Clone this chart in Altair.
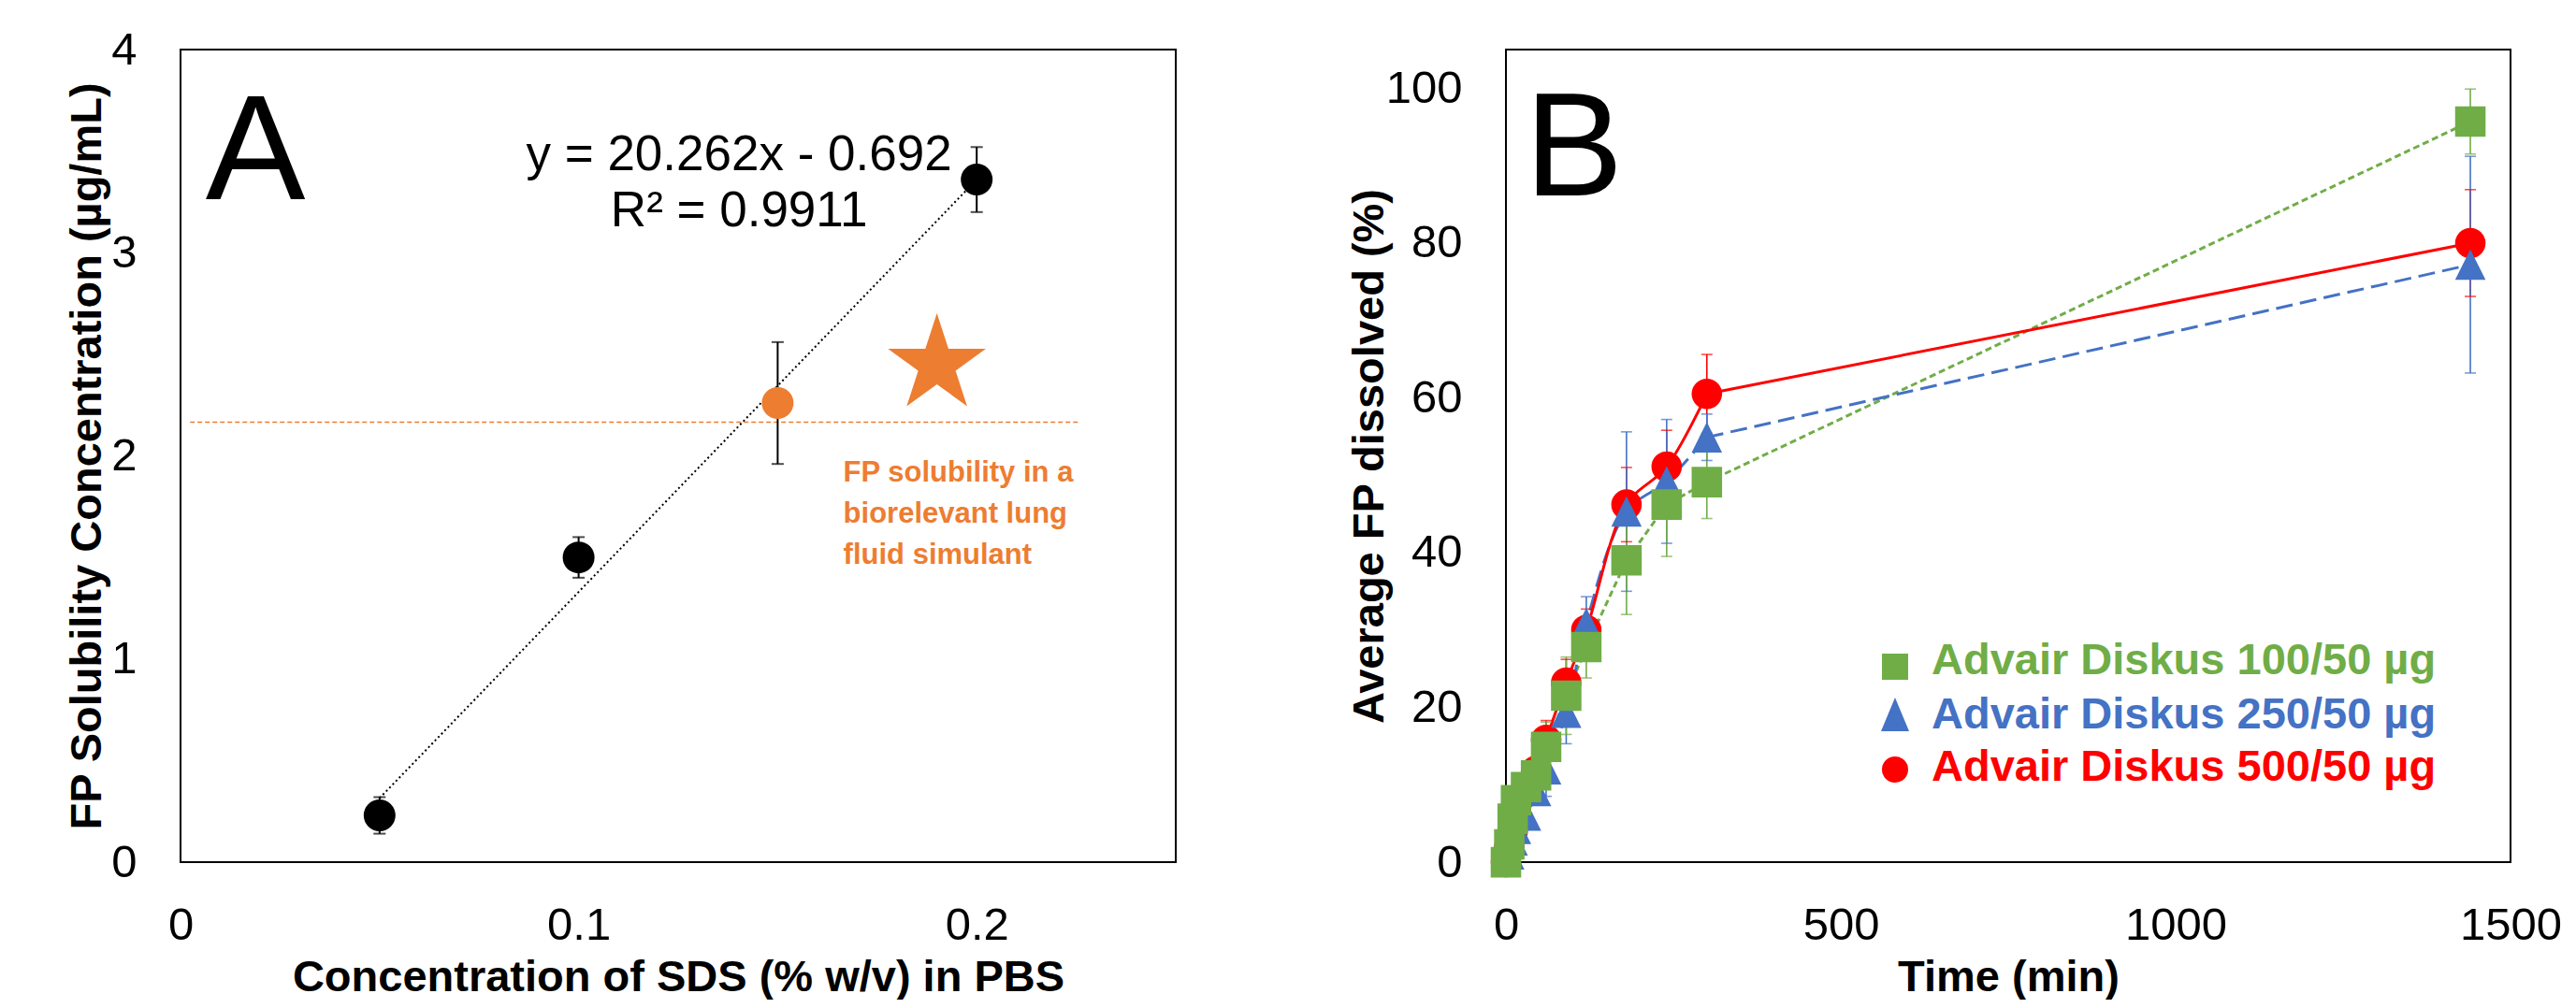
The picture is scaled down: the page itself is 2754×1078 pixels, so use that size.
import altair as alt
import pandas as pd

FONT = "Arial, 'Liberation Sans', sans-serif"
ORANGE = "#ED7D31"
GREEN = "#70AD47"
BLUE = "#4472C4"
RED = "#FF0000"

# ---------------- Panel A data ----------------
sds_conc = [0.05, 0.10, 0.15, 0.20]
fp_solubility = [0.23, 1.50, 2.26, 3.36]
fp_solubility_err = [0.09, 0.10, 0.30, 0.16]
point_group = ["PBS + SDS", "PBS + SDS", "Matches lung fluid", "PBS + SDS"]
lung_fluid_solubility = [2.166]
lung_line_from = [0.0024]
lung_line_to = [0.2256]
star_x = [0.19]
star_y = [2.449]

# ---------------- Panel B data ----------------
time_min = [0, 5, 10, 15, 30, 45, 60, 90, 120, 180, 240, 300, 1440]
series_names = ["Advair Diskus 100/50 µg", "Advair Diskus 250/50 µg", "Advair Diskus 500/50 µg"]
diss_100 = [0, 2.3, 5.6, 8.0, 9.7, 11.2, 14.9, 21.5, 27.8, 39.0, 46.2, 49.1, 95.7]
err_100 = [0, 0.5, 0.8, 1.0, 1.2, 1.5, 3.2, 5.0, 4.0, 7.0, 6.7, 4.7, 4.2]
diss_250 = [0, 1.0, 2.8, 4.3, 6.0, 9.2, 12.0, 19.3, 30.9, 45.3, 49.2, 54.9, 77.2]
err_250 = [0, 0.5, 0.8, 1.0, 1.2, 1.5, 3.5, 4.0, 3.4, 10.3, 8.0, 3.0, 14.0]
diss_500 = [0, 2.0, 4.0, 6.0, 9.0, 11.8, 15.8, 23.2, 30.0, 46.2, 51.1, 60.5, 80.0]
err_500 = [0, 0.5, 0.8, 1.0, 1.2, 1.5, 2.5, 3.0, 2.7, 4.8, 4.7, 5.1, 6.9]

# ---------------- Panel A ----------------
dfA = pd.DataFrame({
    "x": sds_conc,
    "y": fp_solubility,
    "lo": [v - e for v, e in zip(fp_solubility, fp_solubility_err)],
    "hi": [v + e for v, e in zip(fp_solubility, fp_solubility_err)],
    "group": point_group,
})

A_W, A_H = 1064, 869
B_W, B_H = 1074, 869


def xa(field):
    return alt.X(f"{field}:Q",
                 scale=alt.Scale(domain=[0, 0.25], nice=False, zero=False),
                 axis=alt.Axis(values=[0, 0.1, 0.2], format="~g",
                               title="Concentration of SDS (% w/v) in PBS"))


def ya(field):
    return alt.Y(f"{field}:Q",
                 scale=alt.Scale(domain=[0, 4], nice=False),
                 axis=alt.Axis(values=[0, 1, 2, 3, 4], format="~g",
                               title="FP Solubility Concentration (µg/mL)", titleX=-76))


baseA = alt.Chart(dfA)

trend = baseA.transform_regression("x", "y", extent=[0.05, 0.2]).mark_line(
    color="black", strokeWidth=2, strokeDash=[2, 3]
).encode(x=xa("x"), y=ya("y"))

errA = baseA.mark_rule(color="black", strokeWidth=2).encode(x=xa("x"), y=ya("lo"), y2="hi:Q")
capA_lo = baseA.mark_tick(color="black", size=13, thickness=2, orient="horizontal").encode(x=xa("x"), y=ya("lo"))
capA_hi = baseA.mark_tick(color="black", size=13, thickness=2, orient="horizontal").encode(x=xa("x"), y=ya("hi"))

ptsA = baseA.mark_point(filled=True, opacity=1, size=1156).encode(
    x=xa("x"), y=ya("y"),
    color=alt.Color("group:N", scale=alt.Scale(domain=["PBS + SDS", "Matches lung fluid"],
                                               range=["black", ORANGE]), legend=None),
)

lung_df = pd.DataFrame({"x": lung_line_from, "x2": lung_line_to, "y": lung_fluid_solubility})
lung_rule = alt.Chart(lung_df).mark_rule(color=ORANGE, strokeWidth=1.6, strokeDash=[5, 3]).encode(
    x=xa("x"), x2="x2:Q", y=ya("y"))

STAR = ("M0,-1L0.2245,-0.309L0.951,-0.309L0.363,0.118L0.588,0.809L0,0.382"
        "L-0.588,0.809L-0.363,0.118L-0.951,-0.309L-0.2245,-0.309Z")
star = alt.Chart(pd.DataFrame({"x": star_x, "y": star_y})).mark_point(
    shape=STAR, filled=True, opacity=1, size=12100, color=ORANGE
).encode(x=xa("x"), y=ya("y"))

eq_df = pd.DataFrame({"x": [0.1403, 0.1403], "y": [3.406, 3.130],
                      "t": ["y = 20.262x - 0.692", "R² = 0.9911"]})
eq_text = alt.Chart(eq_df).mark_text(align="center", baseline="alphabetic", fontSize=53,
                                     font=FONT, color="black").encode(x=xa("x"), y=ya("y"), text="t:N")

note_df = pd.DataFrame({"x": [0.1665], "y": [1.873],
                        "t": ["FP solubility in a\nbiorelevant lung\nfluid simulant"]})
note = alt.Chart(note_df).mark_text(align="left", baseline="alphabetic", fontSize=31, fontWeight="bold",
                                    font=FONT, color=ORANGE, lineBreak="\n", lineHeight=44).encode(
    x=xa("x"), y=ya("y"), text="t:N")

labA = alt.Chart(pd.DataFrame({"x": [0.0063], "y": [3.264], "t": ["A"]})).mark_text(
    align="left", baseline="alphabetic", fontSize=160, font=FONT, color="black"
).encode(x=xa("x"), y=ya("y"), text="t:N")

panelA = alt.layer(lung_rule, trend, errA, capA_lo, capA_hi, ptsA, star, eq_text, note, labA).properties(
    width=A_W, height=A_H)

# ---------------- Panel B ----------------
rows = []
for name, vals, errs in [(series_names[2], diss_500, err_500),
                         (series_names[1], diss_250, err_250),
                         (series_names[0], diss_100, err_100)]:
    for t, v, e in zip(time_min, vals, errs):
        rows.append({"t": t, "v": v, "lo": v - e, "hi": v + e, "series": name})
dfB = pd.DataFrame(rows)

COLORS = [GREEN, BLUE, RED]
TRIANGLE = "M0,-1L1,1L-1,1Z"
SHAPES = ["square", TRIANGLE, "circle"]


def xb(field):
    return alt.X(f"{field}:Q", scale=alt.Scale(domain=[0, 1500], nice=False, zero=False),
                 axis=alt.Axis(values=[0, 500, 1000, 1500], format="d", title="Time (min)"))


def yb(field):
    return alt.Y(f"{field}:Q", scale=alt.Scale(domain=[0, 105], nice=False),
                 axis=alt.Axis(values=[0, 20, 40, 60, 80, 100], format="d",
                               title="Average FP dissolved (%)", titleX=-122))


baseB = alt.Chart(dfB)

line_100 = baseB.transform_filter(alt.datum.series == series_names[0]).mark_line(
    color=GREEN, strokeWidth=3, strokeDash=[7, 4]).encode(x=xb("t"), y=yb("v"))

line_250_a = baseB.transform_filter(
    (alt.datum.series == series_names[1]) & (alt.datum.t <= 300)
).mark_line(color=BLUE, strokeWidth=3, strokeDash=[18, 8], interpolate="catmull-rom").encode(
    x=xb("t"), y=yb("v"))
line_250_b = baseB.transform_filter(
    (alt.datum.series == series_names[1]) & (alt.datum.t >= 300)
).mark_line(color=BLUE, strokeWidth=3, strokeDash=[18, 8]).encode(x=xb("t"), y=yb("v"))

line_500_a = baseB.transform_filter(
    (alt.datum.series == series_names[2]) & (alt.datum.t <= 300)
).mark_line(color=RED, strokeWidth=3, interpolate="catmull-rom").encode(x=xb("t"), y=yb("v"))
line_500_b = baseB.transform_filter(
    (alt.datum.series == series_names[2]) & (alt.datum.t >= 300)
).mark_line(color=RED, strokeWidth=3).encode(x=xb("t"), y=yb("v"))

err_color = alt.Color("series:N", scale=alt.Scale(domain=series_names, range=COLORS), legend=None)
errB = baseB.mark_rule(strokeWidth=1.6).encode(x=xb("t"), y=yb("lo"), y2="hi:Q", color=err_color)
capB_lo = baseB.mark_tick(size=12, thickness=1.6, orient="horizontal").encode(
    x=xb("t"), y=yb("lo"), color=err_color)
capB_hi = baseB.mark_tick(size=12, thickness=1.6, orient="horizontal").encode(
    x=xb("t"), y=yb("hi"), color=err_color)

ptsB = baseB.mark_point(filled=True, opacity=1, size=1060).encode(
    x=xb("t"), y=yb("v"),
    color=alt.Color("series:N", scale=alt.Scale(domain=series_names, range=COLORS), legend=None),
    shape=alt.Shape("series:N", scale=alt.Scale(domain=series_names, range=SHAPES), legend=None),
)

labB = alt.Chart(pd.DataFrame({"x": [28], "y": [86.15], "t": ["B"]})).mark_text(
    align="left", baseline="alphabetic", fontSize=158, font=FONT, color="black"
).encode(x=xb("x"), y=yb("y"), text="t:N")

# manual legend (symbol + coloured bold label per series), placed in plot pixels
LEG_SHAPES = ["square", "M0,-1.2L1,1.2L-1,1.2Z", "circle"]
LEG_SYM_X, LEG_TXT_X = 416, 455
LEG_SYM_Y = [660, 711, 770]
LEG_TXT_Y = [668, 726, 782]
LEG_SYM_SIZE = [784, 900, 784]
legend_layers = []
for i, name in enumerate(series_names):
    ldf = pd.DataFrame({"s": [name]})
    legend_layers.append(
        alt.Chart(ldf).mark_point(shape=LEG_SHAPES[i], filled=True, opacity=1,
                                  size=LEG_SYM_SIZE[i], color=COLORS[i]).encode(
            x=alt.value(LEG_SYM_X), y=alt.value(LEG_SYM_Y[i])))
    legend_layers.append(
        alt.Chart(ldf).mark_text(align="left", baseline="alphabetic", fontSize=47, fontWeight="bold",
                                 font=FONT, color=COLORS[i]).encode(
            x=alt.value(LEG_TXT_X), y=alt.value(LEG_TXT_Y[i]), text="s:N"))

panelB = alt.layer(line_100, line_250_a, line_250_b, line_500_a, line_500_b,
                   errB, capB_lo, capB_hi, ptsB, labB, *legend_layers).properties(
    width=B_W, height=B_H)

chart = alt.hconcat(panelA, panelB, spacing=181).resolve_scale(
    x="independent", y="independent", color="independent", shape="independent"
).properties(
    padding={"left": 59, "top": 20, "right": 0, "bottom": 0}
).configure_view(
    stroke="black", strokeWidth=2
).configure_axis(
    domain=False, ticks=False, tickSize=0, grid=False,
    labelFont=FONT, labelFontSize=49, labelColor="black",
    labelFlush=False, labelOverlap=False,
    titleFont=FONT, titleFontSize=47, titleFontWeight="bold", titleColor="black",
).configure_axisX(
    labelPadding=43, titlePadding=8
).configure_axisY(
    labelPadding=47
)

chart.save("out.html", embed_options={"renderer": "svg", "actions": False})
